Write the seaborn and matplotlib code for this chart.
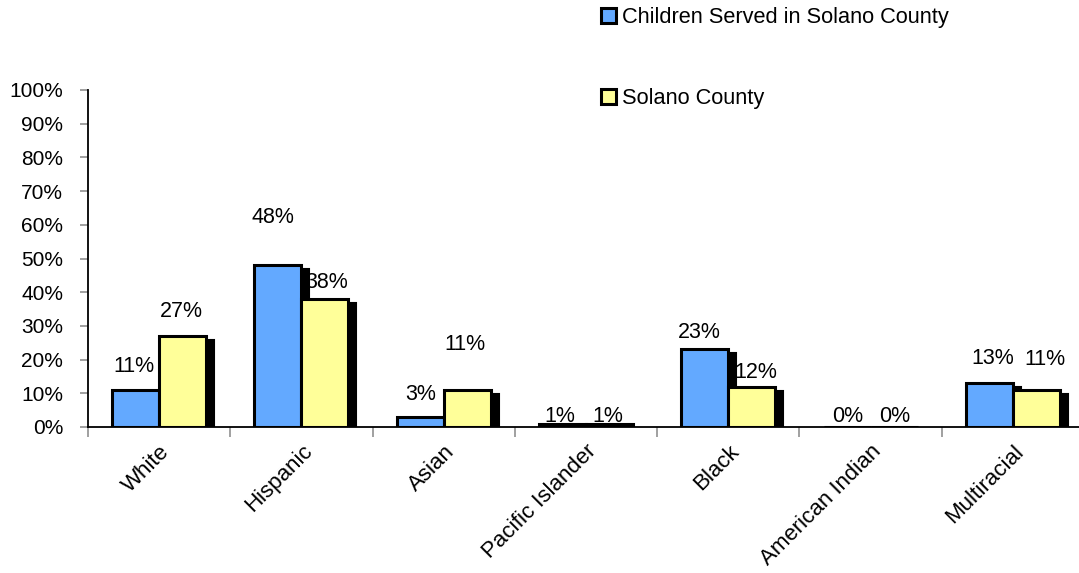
import matplotlib
matplotlib.use("Agg")
import matplotlib.pyplot as plt
import matplotlib.transforms as mtransforms
from matplotlib.patches import Rectangle, Patch
from matplotlib.ticker import FixedLocator, FuncFormatter
import seaborn as sns
import pandas as pd

# Data
categories = ["White", "Hispanic", "Asian", "Pacific Islander", "Black",
              "American Indian", "Multiracial"]
series_names = ["Children Served in Solano County", "Solano County"]
served = [11, 48, 3, 1, 23, 0, 13]
county = [27, 38, 11, 1, 12, 0, 11]

# Per-label nudges (pixels) for the value labels
label_dx = [[-2, -5, 0, -3, -5, 1, 3], [-1, 2, -2, -2, 4, 1, 9]]
label_dy = [[23, 48, 22, 7, 17, 10, 25], [25, 16, 45, 7, 14, 10, 30]]

colors = ["#63A9FF", "#FFFF99"]

sns.set_theme(style="white")
plt.rcParams["font.family"] = ["Liberation Sans", "DejaVu Sans"]
plt.rcParams["text.color"] = "black"
plt.rcParams["xtick.color"] = "black"
plt.rcParams["ytick.color"] = "black"

df = pd.DataFrame({
    "category": categories * 2,
    "series": [series_names[0]] * len(categories) + [series_names[1]] * len(categories),
    "value": served + county,
})

fig = plt.figure(figsize=(10.79, 5.73), dpi=100)
W, H = 1079, 573
ax = fig.add_axes([88 / W, (H - 427) / H, 996 / W, (427 - 90) / H])

sns.barplot(data=df, x="category", y="value", hue="series", order=categories,
            hue_order=series_names, palette=colors, width=0.66, saturation=1,
            edgecolor="black", linewidth=2.2, legend=False, ax=ax, zorder=3)

ax.set_xlim(-0.5, 6.5)
ax.set_ylim(0, 100)

# Drop shadows offset down-right behind every bar
shadow_offset = mtransforms.ScaledTranslation(8 / 100, -4 / 100, fig.dpi_scale_trans)
for bar in list(ax.patches):
    h = bar.get_height()
    if h <= 0:
        continue
    sh = Rectangle((bar.get_x(), 0), bar.get_width(), h,
                   transform=ax.transData + shadow_offset,
                   facecolor="black", edgecolor="black", linewidth=1.5, zorder=2)
    sh.set_clip_path(ax.patch)
    ax.add_patch(sh)

# Value labels, sitting behind the bars
n = len(categories)
bar_w = 0.33
for s, vals in enumerate([served, county]):
    for i, v in enumerate(vals):
        xc = i - bar_w / 2 + s * bar_w
        ax.annotate(f"{v}%", (xc, v), xytext=(label_dx[s][i], label_dy[s][i]),
                    textcoords="offset pixels", ha="center", va="center",
                    fontsize=15.5, color="black", zorder=1, annotation_clip=False)

# Axes styling
for side in ["top", "right"]:
    ax.spines[side].set_visible(False)
for side in ["left", "bottom"]:
    ax.spines[side].set_color("black")
    ax.spines[side].set_linewidth(1.3)

ax.set_yticks(range(0, 101, 10))
ax.yaxis.set_major_formatter(FuncFormatter(lambda v, p: f"{int(v)}%"))
ax.tick_params(axis="y", which="major", left=True, length=6, width=1.2,
               color="#909090", direction="out", pad=12, labelsize=15,
               labelcolor="black")

ax.set_xticks(range(n))
ax.set_xticklabels(categories, rotation=45, ha="right", rotation_mode="anchor",
                   fontsize=16, color="black")
label_shift = mtransforms.ScaledTranslation(-2 / 100, 0, fig.dpi_scale_trans)
for lbl in ax.get_xticklabels():
    lbl.set_transform(lbl.get_transform() + label_shift)
ax.xaxis.set_minor_locator(FixedLocator([i + 0.5 for i in range(-1, n)]))
ax.tick_params(axis="x", which="major", bottom=False, length=0, pad=10,
               labelcolor="black")
ax.tick_params(axis="x", which="minor", bottom=True, length=7, width=1.2,
               color="#909090", direction="out")
ax.set_xlabel("")
ax.set_ylabel("")

# Legend
handles = [Patch(facecolor=c, edgecolor="black", linewidth=2.2) for c in colors]
fig.legend(handles, series_names, loc="upper left",
           bbox_to_anchor=(588 / W, 1.0 + 6 / H), frameon=False, fontsize=15.7,
           handlelength=0.7, handleheight=0.7, handletextpad=0.25,
           labelspacing=2.75, borderpad=0.1, labelcolor="black")

fig.savefig("out.png", dpi=100)
